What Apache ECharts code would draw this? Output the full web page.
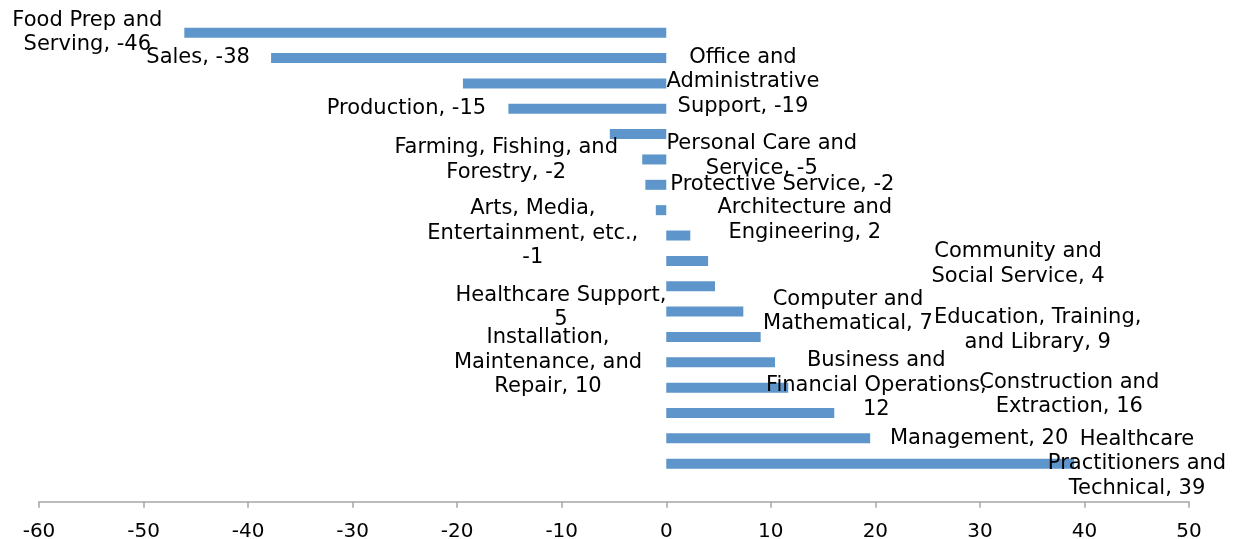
<!DOCTYPE html>
<html>
<head>
<meta charset="utf-8">
<style>
  html, body { margin: 0; padding: 0; background: #ffffff; }
  #chart { width: 1238px; height: 539px; }
</style>
<script src="https://cdn.jsdelivr.net/npm/echarts@6/dist/echarts.min.js"></script>
</head>
<body>
<div id="chart"></div>
<script>
// ---- data ----
const categories = [
  'Food Prep and Serving',
  'Sales',
  'Office and Administrative Support',
  'Production',
  'Personal Care and Service',
  'Farming, Fishing, and Forestry',
  'Protective Service',
  'Arts, Media, Entertainment, etc.',
  'Architecture and Engineering',
  'Community and Social Service',
  'Healthcare Support',
  'Computer and Mathematical',
  'Education, Training, and Library',
  'Installation, Maintenance, and Repair',
  'Business and Financial Operations',
  'Construction and Extraction',
  'Management',
  'Healthcare Practitioners and Technical'
];
const values = [-46.1, -37.8, -19.45, -15.1, -5.4, -2.3, -2.0, -1.0, 2.3, 4.0, 4.66, 7.37, 9.03, 10.4, 11.67, 16.07, 19.5, 39.0];
const xTicks = { min: -60, max: 50, interval: 10 };

// words per line of each data label
const labelLineWords = [
  [3,2],[2],[2,1,2],[2],[3,2],[3,2],[3],[2,2,1],[2,2],
  [2,3],[2,1],[2,2],[2,3],[1,2,2],[2,2,1],[2,2],[2],[1,2,2]
];
// label centre offset (px) from the bar end
const labelOffsets = [
  [-97, 0], [-73, 0], [280, -1.5], [-102, 0], [152, 22], [-136, 0.5],
  [137, 0], [-123, 23], [114.5, -15.7], [310, 3], [-154, 21.5], [104.6, 0],
  [277, -7], [-227, 0], [88, -2.5], [235, -18.4], [109, 0], [63, 0]
];
const BAR_W = 10;

function labelText(i) {
  const words = (categories[i] + ', ' + Math.round(values[i])).split(' ');
  const lines = [];
  let k = 0;
  labelLineWords[i].forEach(n => { lines.push(words.slice(k, k + n).join(' ')); k += n; });
  return lines.join('\n');
}

const chart = echarts.init(document.getElementById('chart'), null, { renderer: 'canvas' });

function buildOption(positions) {
  const barData = values.map((v, i) => ({
    value: v,
    label: {
      show: !!positions,
      position: positions ? positions[i] : 'inside',
      align: 'center',
      verticalAlign: 'middle',
      formatter: () => labelText(i)
    }
  }));
  return {
    animation: false,
    backgroundColor: '#ffffff',
    grid: { left: 39, right: 49, top: 20, bottom: 62.6, containLabel: false, outerBoundsMode: 'none' },
    xAxis: {
      type: 'value',
      min: xTicks.min, max: xTicks.max, interval: xTicks.interval,
      offset: 25.4,
      axisLine: { show: true, onZero: false, lineStyle: { color: '#a6a6a6', width: 1.5 } },
      axisTick: { show: true, length: 6, lineStyle: { color: '#a6a6a6', width: 1.5 } },
      splitLine: { show: false },
      axisLabel: { color: '#000000', fontFamily: 'DejaVu Sans', fontSize: 20, margin: 20 }
    },
    yAxis: {
      type: 'category',
      data: categories,
      inverse: true,
      axisLine: { show: false },
      axisTick: { show: false },
      axisLabel: { show: false },
      splitLine: { show: false }
    },
    series: [{
      type: 'bar',
      data: barData,
      barWidth: BAR_W,
      itemStyle: { color: '#5e96cb' },
      label: {
        color: '#000000',
        fontFamily: 'DejaVu Sans',
        fontSize: 21,
        lineHeight: 24.5
      },
      labelLayout: { hideOverlap: false }
    }]
  };
}

chart.setOption(buildOption(null));
// label positions relative to each bar's rect, measured through the axis scale
const positions = values.map((v, i) => {
  const endPx = chart.convertToPixel({ gridIndex: 0 }, [v, i])[0];
  const leftPx = chart.convertToPixel({ gridIndex: 0 }, [Math.min(v, 0), i])[0];
  return [endPx + labelOffsets[i][0] - leftPx, BAR_W / 2 + labelOffsets[i][1]];
});
chart.setOption(buildOption(positions));
</script>
</body>
</html>
